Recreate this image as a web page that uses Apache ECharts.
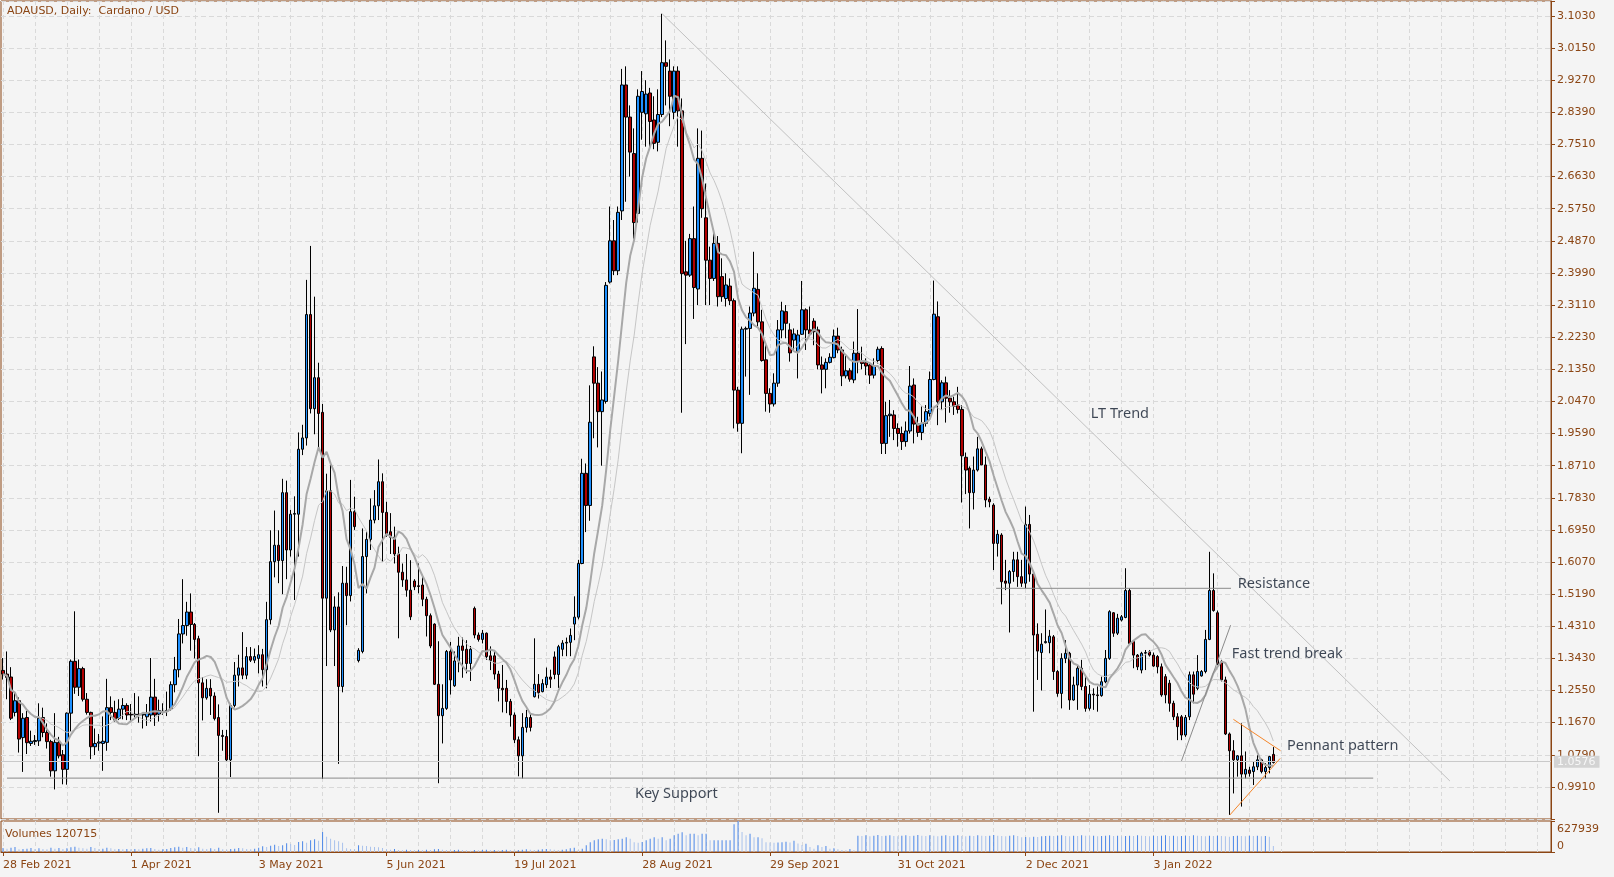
<!DOCTYPE html>
<html><head><meta charset="utf-8">
<script src="https://cdn.jsdelivr.net/npm/echarts@6/dist/echarts.min.js"></script>
<style>html,body{margin:0;padding:0;background:#f4f4f4;}#c{width:1614px;height:877px;}</style>
</head><body><div id="c"></div>
<script>
// ---- DATA ----
const symbolTitle = 'ADAUSD, Daily:  Cardano / USD';
const tickLabels = ['28 Feb 2021','1 Apr 2021','3 May 2021','5 Jun 2021','19 Jul 2021','28 Aug 2021','29 Sep 2021','31 Oct 2021','2 Dec 2021','3 Jan 2022'];
const barsPerLabel = 32;
const slotCount = 388;
const lastPrice = 1.0576;
// daily candles [open, high, low, close]
const candles = [
[1.310,1.344,1.285,1.300],[1.300,1.362,1.231,1.291],[1.292,1.319,1.174,1.179],[1.195,1.248,1.184,1.227],[1.227,1.236,1.085,1.122],
[1.126,1.193,1.032,1.179],[1.181,1.199,1.081,1.112],[1.110,1.145,1.103,1.116],[1.115,1.133,1.106,1.118],[1.117,1.220,1.103,1.179],
[1.181,1.208,1.127,1.140],[1.140,1.165,1.096,1.115],[1.115,1.120,1.019,1.035],[1.035,1.193,0.984,1.113],[1.113,1.128,1.069,1.076],
[1.079,1.092,0.998,1.039],[1.039,1.195,0.997,1.193],[1.193,1.340,1.142,1.335],[1.335,1.472,1.246,1.264],[1.264,1.340,1.240,1.315],
[1.315,1.320,1.225,1.231],[1.231,1.248,1.189,1.195],[1.195,1.197,1.067,1.101],[1.101,1.151,1.078,1.110],[1.111,1.136,1.090,1.114],
[1.110,1.184,1.035,1.116],[1.113,1.287,1.090,1.208],[1.208,1.239,1.174,1.195],[1.195,1.227,1.170,1.174],[1.179,1.231,1.174,1.204],
[1.204,1.234,1.176,1.214],[1.214,1.220,1.174,1.188],[1.190,1.218,1.170,1.188],[1.188,1.248,1.181,1.190],[1.190,1.239,1.167,1.188],
[1.188,1.193,1.151,1.190],[1.183,1.218,1.158,1.193],[1.188,1.344,1.170,1.237],[1.237,1.287,1.158,1.188],[1.190,1.230,1.170,1.200],
[1.195,1.220,1.188,1.198],[1.199,1.252,1.185,1.200],[1.205,1.280,1.199,1.271],[1.271,1.347,1.250,1.312],[1.312,1.451,1.291,1.410],
[1.410,1.560,1.384,1.433],[1.433,1.498,1.405,1.470],[1.470,1.521,1.364,1.436],[1.436,1.440,1.343,1.395],[1.397,1.405,1.075,1.276],
[1.276,1.292,1.173,1.235],[1.235,1.286,1.230,1.261],[1.261,1.286,1.188,1.240],[1.240,1.250,1.173,1.178],[1.181,1.217,0.920,1.132],
[1.132,1.147,1.090,1.129],[1.129,1.147,1.059,1.065],[1.065,1.219,1.018,1.214],[1.214,1.333,1.209,1.297],[1.297,1.353,1.266,1.317],
[1.317,1.415,1.286,1.297],[1.297,1.374,1.286,1.348],[1.348,1.374,1.333,1.338],[1.338,1.370,1.330,1.348],[1.343,1.379,1.302,1.353],
[1.353,1.369,1.266,1.312],[1.312,1.498,1.261,1.449],[1.449,1.694,1.436,1.608],[1.608,1.748,1.565,1.653],[1.653,1.694,1.549,1.611],
[1.611,1.835,1.519,1.797],[1.797,1.830,1.560,1.640],[1.640,1.750,1.622,1.738],[1.738,1.787,1.503,1.740],[1.738,1.962,1.622,1.916],
[1.916,1.983,1.900,1.947],[1.947,2.380,1.926,2.285],[2.285,2.473,2.014,2.027],[2.027,2.334,1.957,2.112],[2.112,2.153,1.921,2.014],
[2.017,2.040,1.013,1.508],[1.508,1.849,1.322,1.802],[1.802,1.874,1.415,1.421],[1.421,1.513,1.322,1.484],[1.484,1.524,1.054,1.266],
[1.266,1.596,1.250,1.549],[1.549,1.594,1.434,1.515],[1.515,1.832,1.499,1.745],[1.745,1.786,1.695,1.704],[1.337,1.371,1.332,1.365],
[1.362,1.699,1.357,1.622],[1.622,1.690,1.521,1.669],[1.669,1.781,1.640,1.722],[1.722,1.804,1.713,1.761],[1.761,1.888,1.722,1.827],
[1.827,1.850,1.608,1.743],[1.743,1.772,1.676,1.681],[1.690,1.741,1.629,1.675],[1.675,1.704,1.603,1.629],[1.629,1.649,1.398,1.579],
[1.579,1.603,1.539,1.558],[1.558,1.629,1.512,1.530],[1.530,1.612,1.448,1.457],[1.555,1.560,1.530,1.539],[1.542,1.603,1.521,1.540],
[1.544,1.566,1.486,1.505],[1.505,1.512,1.403,1.460],[1.460,1.466,1.371,1.377],[1.437,1.439,1.270,1.272],[1.272,1.390,1.001,1.186],
[1.186,1.272,1.110,1.206],[1.206,1.366,1.202,1.362],[1.362,1.388,1.244,1.284],[1.268,1.362,1.265,1.336],[1.336,1.402,1.305,1.377],
[1.377,1.400,1.290,1.365],[1.368,1.393,1.302,1.329],[1.329,1.377,1.281,1.368],[1.480,1.485,1.398,1.407],[1.407,1.414,1.389,1.395],
[1.395,1.421,1.384,1.412],[1.412,1.414,1.339,1.348],[1.350,1.376,1.311,1.337],[1.350,1.366,1.285,1.300],[1.300,1.309,1.225,1.261],
[1.261,1.325,1.195,1.257],[1.261,1.284,1.193,1.225],[1.225,1.232,1.156,1.188],[1.188,1.195,1.111,1.120],[1.120,1.129,1.020,1.076],
[1.076,1.193,1.014,1.154],[1.154,1.202,1.140,1.181],[1.181,1.193,1.143,1.154],[1.238,1.398,1.236,1.272],[1.272,1.300,1.233,1.249],
[1.252,1.286,1.250,1.274],[1.271,1.318,1.262,1.292],[1.292,1.312,1.262,1.286],[1.347,1.362,1.286,1.299],[1.299,1.380,1.262,1.375],
[1.368,1.393,1.349,1.385],[1.385,1.400,1.349,1.387],[1.387,1.425,1.349,1.406],[1.437,1.513,1.393,1.456],[1.456,1.613,1.450,1.603],
[1.603,1.890,1.601,1.850],[1.850,1.877,1.689,1.762],[1.762,2.091,1.720,1.990],[2.169,2.198,1.946,2.097],[2.097,2.141,1.921,2.019],
[2.019,2.129,1.871,2.051],[2.047,2.374,2.041,2.365],[2.374,2.581,2.370,2.487],[2.487,2.544,2.393,2.405],[2.405,2.581,2.393,2.565],
[2.569,2.958,2.544,2.914],[2.914,2.965,2.594,2.826],[2.826,2.858,2.663,2.730],[2.726,2.795,2.493,2.537],[2.562,2.902,2.537,2.883],
[2.839,2.952,2.764,2.896],[2.835,2.927,2.745,2.889],[2.892,2.906,2.745,2.814],[2.818,2.883,2.738,2.754],[2.757,2.902,2.732,2.833],
[2.833,3.109,2.826,2.975],[2.975,3.036,2.858,2.965],[2.952,2.984,2.801,2.883],[2.839,2.965,2.820,2.952],[2.952,2.965,2.745,2.843],
[2.843,2.877,2.016,2.397],[2.402,2.487,2.204,2.393],[2.393,2.506,2.388,2.493],[2.493,2.581,2.273,2.359],[2.355,2.795,2.311,2.713],
[2.713,2.789,2.550,2.575],[2.550,2.644,2.311,2.434],[2.434,2.471,2.311,2.384],[2.384,2.517,2.377,2.480],[2.480,2.500,2.307,2.334],
[2.389,2.439,2.320,2.334],[2.329,2.398,2.307,2.366],[2.363,2.384,2.311,2.323],[2.323,2.329,1.973,2.078],[2.078,2.087,1.964,1.987],
[1.987,2.252,1.905,2.245],[2.245,2.252,2.115,2.247],[2.247,2.307,2.065,2.289],[2.289,2.457,2.280,2.357],[2.354,2.398,2.252,2.265],
[2.265,2.298,2.156,2.159],[2.161,2.207,2.019,2.069],[2.069,2.083,2.016,2.040],[2.040,2.124,2.033,2.097],[2.097,2.270,2.087,2.243],
[2.243,2.320,2.220,2.295],[2.293,2.311,2.220,2.261],[2.243,2.261,2.156,2.180],[2.215,2.247,2.183,2.232],[2.183,2.243,2.110,2.229],
[2.231,2.377,2.229,2.298],[2.298,2.302,2.188,2.243],[2.243,2.307,2.231,2.232],[2.267,2.275,2.201,2.238],[2.243,2.252,2.135,2.147],
[2.147,2.170,2.069,2.135],[2.135,2.165,2.083,2.154],[2.154,2.179,2.151,2.168],[2.167,2.244,2.165,2.226],[2.226,2.249,2.179,2.188],
[2.188,2.197,2.089,2.117],[2.117,2.174,2.110,2.131],[2.131,2.138,2.101,2.108],[2.106,2.211,2.097,2.179],[2.179,2.300,2.124,2.156],
[2.156,2.197,2.135,2.151],[2.153,2.165,2.119,2.144],[2.147,2.153,2.095,2.119],[2.119,2.165,2.110,2.144],[2.159,2.197,2.151,2.190],
[2.192,2.198,1.903,1.932],[1.932,2.046,1.903,2.008],[2.008,2.051,1.950,2.012],[2.010,2.023,1.941,1.973],[1.973,1.987,1.923,1.959],
[1.959,1.978,1.914,1.937],[1.937,1.992,1.923,1.966],[1.966,2.144,1.959,2.089],[2.092,2.110,1.932,1.985],[1.985,2.005,1.950,1.962],
[1.962,2.033,1.941,1.987],[1.987,2.037,1.978,2.019],[2.014,2.129,2.005,2.107],[2.107,2.378,2.105,2.286],[2.279,2.321,1.982,2.046],
[2.046,2.105,2.025,2.098],[2.098,2.115,1.989,2.056],[2.056,2.078,2.016,2.046],[2.046,2.060,2.010,2.034],[2.037,2.087,2.014,2.025],
[2.025,2.037,1.770,1.898],[1.894,1.907,1.793,1.859],[1.864,1.869,1.699,1.797],[1.797,1.896,1.751,1.859],[1.859,1.950,1.855,1.917],
[1.917,1.923,1.873,1.873],[1.873,1.896,1.757,1.777],[1.779,1.786,1.757,1.772],[1.763,1.768,1.585,1.658],[1.658,1.695,1.622,1.683],
[1.681,1.686,1.491,1.553],[1.555,1.613,1.530,1.549],[1.549,1.585,1.414,1.581],[1.581,1.635,1.553,1.613],[1.613,1.635,1.539,1.567],
[1.567,1.613,1.539,1.549],[1.549,1.759,1.535,1.710],[1.710,1.736,1.553,1.574],[1.574,1.581,1.197,1.407],[1.409,1.439,1.284,1.363],
[1.359,1.412,1.255,1.382],[1.386,1.477,1.384,1.389],[1.386,1.421,1.357,1.404],[1.402,1.407,1.284,1.307],[1.307,1.311,1.238,1.247],
[1.247,1.357,1.206,1.343],[1.343,1.393,1.330,1.357],[1.357,1.361,1.202,1.229],[1.229,1.293,1.227,1.270],[1.270,1.325,1.202,1.316],
[1.316,1.339,1.256,1.266],[1.266,1.293,1.197,1.206],[1.206,1.270,1.200,1.245],[1.245,1.261,1.202,1.243],[1.243,1.266,1.197,1.241],
[1.241,1.293,1.238,1.279],[1.279,1.366,1.275,1.343],[1.343,1.475,1.339,1.471],[1.468,1.470,1.402,1.412],[1.412,1.465,1.407,1.453],
[1.448,1.462,1.444,1.457],[1.455,1.590,1.453,1.529],[1.529,1.535,1.380,1.384],[1.389,1.393,1.316,1.352],[1.352,1.355,1.311,1.320],
[1.311,1.361,1.302,1.357],[1.357,1.366,1.311,1.359],[1.361,1.366,1.348,1.352],[1.352,1.359,1.320,1.322],[1.348,1.352,1.302,1.320],
[1.320,1.329,1.238,1.243],[1.293,1.300,1.220,1.243],[1.275,1.284,1.197,1.220],[1.220,1.227,1.174,1.183],[1.183,1.193,1.119,1.156],
[1.183,1.188,1.119,1.133],[1.133,1.188,1.128,1.181],[1.183,1.307,1.174,1.298],[1.298,1.307,1.220,1.245],[1.261,1.352,1.256,1.307],
[1.295,1.311,1.293,1.307],[1.307,1.421,1.302,1.395],[1.395,1.635,1.393,1.529],[1.529,1.576,1.471,1.474],[1.468,1.474,1.325,1.328],
[1.334,1.339,1.280,1.284],[1.284,1.293,1.133,1.136],[1.136,1.140,0.914,1.090],[1.090,1.119,0.973,1.065],[1.065,1.078,1.019,1.076],
[1.076,1.165,0.937,1.026],[1.026,1.088,1.014,1.039],[1.037,1.046,1.019,1.028],[1.033,1.060,0.996,1.046],[1.046,1.078,1.037,1.065],
[1.065,1.068,1.028,1.033],[1.033,1.056,1.014,1.044],[1.044,1.076,1.028,1.074],[1.080,1.100,1.055,1.0576]
];
const volumes = [
81000,68000,88000,101000,54000,61000,68000,81000,61000,74000,61000,54000,88000,68000,81000,61000,
74000,94000,108000,88000,74000,68000,101000,81000,61000,68000,88000,74000,54000,61000,54000,61000,
54000,61000,54000,68000,74000,81000,61000,47000,54000,61000,81000,94000,108000,88000,101000,81000,
74000,94000,68000,61000,74000,61000,88000,54000,47000,61000,68000,81000,74000,61000,54000,68000,
88000,115000,101000,128000,148000,121000,135000,175000,162000,142000,202000,216000,189000,236000,256000,229000,
405000,310000,270000,236000,216000,189000,74000,61000,54000,135000,128000,121000,108000,101000,94000,81000,
54000,47000,61000,40000,34000,47000,40000,34000,40000,34000,47000,40000,54000,61000,47000,40000,
34000,40000,47000,40000,34000,27000,40000,34000,40000,47000,34000,40000,34000,40000,47000,40000,
34000,40000,47000,54000,47000,40000,47000,54000,61000,54000,47000,40000,47000,54000,74000,88000,
40000,68000,135000,200000,236000,256000,270000,256000,236000,243000,256000,270000,300000,270000,200000,189000,
202000,240000,270000,300000,270000,300000,236000,270000,340000,370000,400000,340000,370000,370000,340000,370000,
370000,236000,236000,236000,236000,240000,240000,560000,627939,405000,340000,370000,300000,300000,280000,200000,
190000,185000,190000,200000,210000,190000,230000,170000,140000,168000,100000,68000,135000,101000,121000,68000,
74000,54000,40000,34000,61000,34000,
331000,324000,338000,317000,331000,344000,324000,331000,
338000,324000,317000,331000,338000,324000,331000,344000,
331000,324000,338000,331000,317000,331000,338000,324000,
331000,338000,324000,317000,331000,324000,338000,331000,
324000,331000,344000,331000,324000,317000,331000,338000,
324000,297000,304000,297000,310000,304000,317000,324000,
331000,324000,331000,338000,324000,317000,331000,324000,
338000,331000,324000,331000,317000,324000,331000,338000,
324000,331000,317000,324000,331000,324000,338000,331000,
324000,317000,331000,324000,331000,338000,324000,331000,
317000,324000,331000,324000,338000,331000,324000,317000,
331000,324000,331000,324000,317000,310000,324000,331000,
324000,317000,331000,324000,331000,317000,324000,310000,
120715
];
// drawn annotations: [bar index, price]
const ltTrend = [[165, 3.109], [362.2, 1.007]];
const resistance = [[248.6, 1.535], [307.4, 1.535]];
const fastTrend = [[295.0, 1.062], [307.3, 1.434]];
const pennantTop = [[308.0, 1.176], [319.8, 1.090]];
const pennantBottom = [[307.1, 0.914], [319.7, 1.069]];
const keySupport = [[1, 1.015], [343, 1.015]];
const notes = [
  {text: 'LT Trend', at: [272.3, 2.014]},
  {text: 'Resistance', at: [309.1, 1.547]},
  {text: 'Fast trend break', at: [307.6, 1.355]},
  {text: 'Pennant pattern', at: [321.4, 1.104]},
  {text: 'Key Support', at: [158.2, 0.971]}
];
const fastPeriod = 10, slowPeriod = 16;

// ---- BUILD ----
const BROWN = '#8b4513';
const AXF = 'DejaVu Sans';
const GRIDC = '#d9d9d9';
const categories = Array.from({length: slotCount}, (_, i) => String(i));
const closes = candles.map(c => c[3]);
function sma(p) {
  return closes.map((_, i) => {
    const s = Math.max(0, i - p + 1); let sum = 0;
    for (let j = s; j <= i; j++) sum += closes[j];
    return +(sum / (i - s + 1)).toFixed(4);
  });
}
const showTick = (i) => i % barsPerLabel === 0 && i / barsPerLabel < tickLabels.length;
const pMin = 0.903, pMax = 3.144, pStep = 0.088;

const chart = echarts.init(document.getElementById('c'), null, {renderer: 'canvas'});
const lineSeries = (data, color, width) => ({
  type: 'line', xAxisIndex: 2, yAxisIndex: 2, data, symbol: 'none', silent: true, z: 5,
  lineStyle: {color, width}, animation: false
});
chart.setOption({
  animation: false,
  backgroundColor: '#f4f4f4',
  title: [
    {text: symbolTitle, left: 7, top: 6, padding: 0, textStyle: {fontFamily: AXF, fontSize: 11, fontWeight: 'normal', color: BROWN}},
    {text: 'Volumes ' + volumes[volumes.length - 1], left: 5, top: 829, padding: 0, textStyle: {fontFamily: AXF, fontSize: 11, fontWeight: 'normal', color: BROWN}}
  ],
  grid: [
    {left: 1, top: 1, width: 1550, height: 818, show: true, borderColor: BROWN, borderWidth: 1, backgroundColor: 'transparent'},
    {left: 1, top: 821, width: 1550, height: 31, show: true, borderColor: BROWN, borderWidth: 1, backgroundColor: 'transparent'},
    {left: 3, top: 1, width: 1548, height: 818},
    {left: 3, top: 821, width: 1548, height: 31}
  ],
  xAxis: [
    {type: 'category', gridIndex: 0, data: categories, boundaryGap: true, axisLine: {show: false}, axisTick: {show: false}, axisLabel: {show: false}, splitLine: {show: false}},
    {type: 'category', gridIndex: 1, data: categories, boundaryGap: true,
      axisLine: {show: true, lineStyle: {color: BROWN}},
      axisTick: {show: true, alignWithLabel: true, interval: showTick, length: 4, lineStyle: {color: BROWN}},
      axisLabel: {show: true, interval: showTick, align: 'left', margin: 8, color: BROWN, fontFamily: AXF, fontSize: 11,
        formatter: (v, idx) => tickLabels[Math.round(idx / barsPerLabel)] || ''},
      splitLine: {show: false}},
    {type: 'value', gridIndex: 2, min: 0, max: 387.5, interval: 8, axisLine: {show: false}, axisTick: {show: false}, axisLabel: {show: false},
      splitLine: {show: true, lineStyle: {color: GRIDC, type: [4, 3], width: 1}}},
    {type: 'value', gridIndex: 3, min: 0, max: 387.5, interval: 8, axisLine: {show: false}, axisTick: {show: false}, axisLabel: {show: false},
      splitLine: {show: true, lineStyle: {color: GRIDC, type: [4, 3], width: 1}}}
  ],
  yAxis: [
    {type: 'value', gridIndex: 0, position: 'right', min: pMin, max: pMax, interval: pStep,
      axisLine: {show: true, lineStyle: {color: BROWN}},
      axisTick: {show: true, length: 4, lineStyle: {color: BROWN}},
      axisLabel: {margin: 6, color: BROWN, fontFamily: AXF, fontSize: 11,
        formatter: (v) => { const k = (v - 0.991) / pStep; return (Math.abs(k - Math.round(k)) < 1e-6 && v > 0.95 && v < 3.12) ? v.toFixed(4) : ''; }},
      splitLine: {show: true, lineStyle: {color: GRIDC, type: [5, 3], width: 1}}},
    {type: 'value', gridIndex: 1, position: 'right', min: 0, max: 627939, interval: 627939,
      axisLine: {show: true, lineStyle: {color: BROWN}},
      axisTick: {show: true, length: 4, lineStyle: {color: BROWN}},
      axisLabel: {margin: 6, color: BROWN, fontFamily: AXF, fontSize: 11,
        formatter: (v) => v === 0 ? '{b|0}' : '{t|' + v + '}',
        rich: {t: {padding: [16, 0, 0, 0], fontFamily: AXF, fontSize: 11, color: BROWN}, b: {padding: [0, 0, 12, 0], fontFamily: AXF, fontSize: 11, color: BROWN}}},
      splitLine: {show: false}},
    {type: 'value', gridIndex: 2, min: pMin, max: pMax, show: false, splitLine: {show: false}},
    {type: 'value', gridIndex: 3, min: 0, max: 1, show: false, splitLine: {show: false}}
  ],
  series: [
    {type: 'candlestick', xAxisIndex: 0, yAxisIndex: 0, z: 3, barWidth: 3,
      data: candles.map(([o, h, l, c]) => [o, c, l, h]),
      itemStyle: {color: '#1e90ff', color0: '#b00000', borderColor: '#000000', borderColor0: '#000000', borderWidth: 1},
      emphasis: {disabled: true},
      markLine: {silent: true, symbol: ['none', 'none'], animation: false,
        data: [{yAxis: lastPrice}],
        lineStyle: {color: '#c9c9c9', type: 'solid', width: 1},
        label: {show: true, position: 'end', distance: 3, formatter: lastPrice.toFixed(4), backgroundColor: '#d3d3d3', color: '#f7f7f7', fontFamily: AXF, fontSize: 11, padding: [1, 4, 0, 3]}}
    },
    {type: 'line', xAxisIndex: 0, yAxisIndex: 0, z: 4, data: sma(slowPeriod), symbol: 'none', silent: true, lineStyle: {color: '#c6c6c6', width: 1}},
    {type: 'line', xAxisIndex: 0, yAxisIndex: 0, z: 4, data: sma(fastPeriod), symbol: 'none', silent: true, lineStyle: {color: '#a8a8a8', width: 2}},
    {type: 'bar', xAxisIndex: 1, yAxisIndex: 1, barWidth: 1, silent: true,
      data: volumes.map((v, i) => ({value: v, itemStyle: {color: (i > 0 && v < volumes[i - 1]) ? '#a9c2ec' : '#4a86e8'}}))},
    lineSeries(ltTrend, '#c2c2c2', 1),
    lineSeries(resistance, '#8a8a8a', 1),
    lineSeries(fastTrend, '#8a8a8a', 1),
    lineSeries(keySupport, '#8a8a8a', 1),
    lineSeries(pennantTop, '#f5862a', 1),
    lineSeries(pennantBottom, '#f5862a', 1),
    {type: 'scatter', xAxisIndex: 2, yAxisIndex: 2, symbolSize: 0, silent: true, z: 6,
      data: notes.map(n => ({value: n.at, name: n.text})),
      label: {show: true, position: 'right', distance: 0, formatter: (p) => p.name, color: '#0f1a2c', fontFamily: 'Noto Sans', fontSize: 14.5}}
  ]
});
</script></body></html>
